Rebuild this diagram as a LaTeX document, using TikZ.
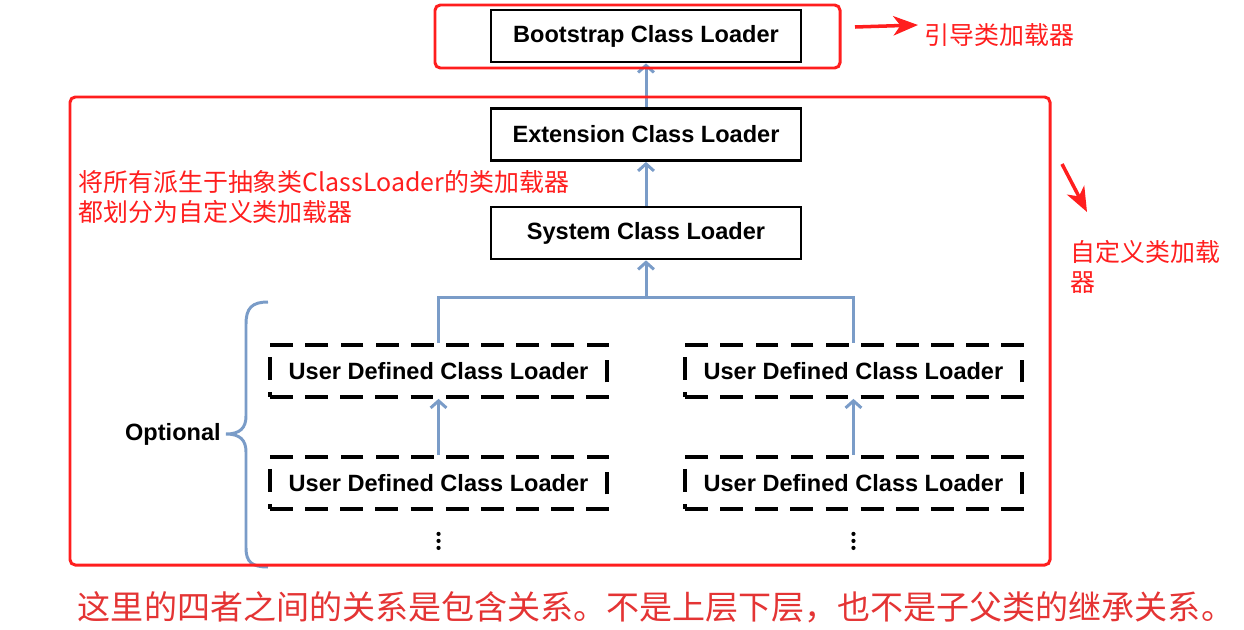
\documentclass[tikz,border=0pt]{standalone}
\usepackage{fontspec}
\setmainfont{Liberation Sans}
\newfontfamily\cjk{Noto Sans CJK SC}
\usetikzlibrary{positioning,arrows.meta}
\definecolor{noteRed}{RGB}{255,30,30}
\definecolor{sumRed}{RGB}{228,52,52}
\definecolor{linkBlue}{RGB}{122,156,200}

\begin{document}
\begin{tikzpicture}[x=0.02cm,y=-0.02cm,node distance=1.97cm,on grid,
	loader/.style={draw,line width=1.6pt,minimum width=6.2cm,minimum height=1.04cm,
		inner sep=0pt,font=\fontsize{13.4}{16}\selectfont\bfseries},
	userloader/.style={loader,minimum width=6.74cm,line width=2.2pt,dash pattern=on 13pt off 7pt},
	link/.style={linkBlue,line width=1.7pt,-{Straight Barb[length=4pt,width=9pt]}},
	cue/.style={noteRed,line width=2pt,-{Stealth[length=14pt,width=11pt,inset=4pt]}},
	note/.style={noteRed,font=\cjk\fontsize{14.2}{17}\selectfont,align=left,inner sep=0pt},
	frame/.style={noteRed,line width=1.7pt,rounded corners=3pt},
	more/.style={inner sep=0pt,minimum size=0pt}]
	\useasboundingbox (0,0) rectangle (1244,629);
	% loader chain
	\node[loader] (boot) at (646,36) {Bootstrap Class Loader};
	\node[loader] (ext) [below=of boot] {Extension Class Loader};
	\node[loader] (sys) [below=of ext] {System Class Loader};
	\path (sys.center) ++(0,65) coordinate (split);
	\node[userloader] (udleft) [below left=2.76cm and 4.15cm of sys] {User Defined Class Loader};
	\node[userloader] (udright) [below right=2.76cm and 4.15cm of sys] {User Defined Class Loader};
	\node[userloader] (udleftb) [below=2.24cm of udleft] {User Defined Class Loader};
	\node[userloader] (udrightb) [below=2.24cm of udright] {User Defined Class Loader};
	\node[more] (moreleft) [below=1.16cm of udleftb] {};
	\node[more] (moreright) [below=1.16cm of udrightb] {};
	\foreach \m in {moreleft,moreright}
		\foreach \dy in {-7,0,7}
			\fill (\m) ++(0,\dy) circle (1.2pt);
	\path[link]
	(ext) edge (boot)
	(sys) edge (ext)
	(split) edge (sys)
	(udleftb) edge (udleft)
	(udrightb) edge (udright);
	\draw[linkBlue,line width=1.7pt] (udleft.north) |- (split) -| (udright.north);
	% optional brace
	\node[anchor=east,font=\fontsize{13.4}{16}\selectfont\bfseries,inner sep=0pt] (optional) at (221,434) {Optional};
	\draw[linkBlue,line width=1.7pt] (268,302) .. controls (252,302) and (246,308) .. (246,324)
	-- (246,416) .. controls (246,428) and (240,434) .. (226,434)
	.. controls (240,434) and (246,440) .. (246,452) -- (246,548)
	.. controls (246,562) and (252,567) .. (268,567);
	% red annotations
	\draw[frame] (435,5) rectangle (840,68);
	\draw[frame] (70,97) rectangle (1050,565);
	\node[note,anchor=west] (bootnote) at (924,35) {引导类加载器};
	\node[note,anchor=west] (absnote) at (78,197) {将所有派生于抽象类ClassLoader的类加载器\\都划分为自定义类加载器};
	\node[note,anchor=west] (usernote) at (1070,267) {自定义类加载\\器};
	\coordinate (bootcue) at (855,27);
	\coordinate (usercue) at (1062,164);
	\draw[cue] (bootcue) -- (918,25);
	\draw[cue] (usercue) -- (1087,212);
	\node[sumRed,font=\cjk\fontsize{18.8}{22}\selectfont,inner sep=0pt] (summary) at (656,607)
	{这里的四者之间的关系是包含关系。不是上层下层，也不是子父类的继承关系。};
\end{tikzpicture}
\end{document}
